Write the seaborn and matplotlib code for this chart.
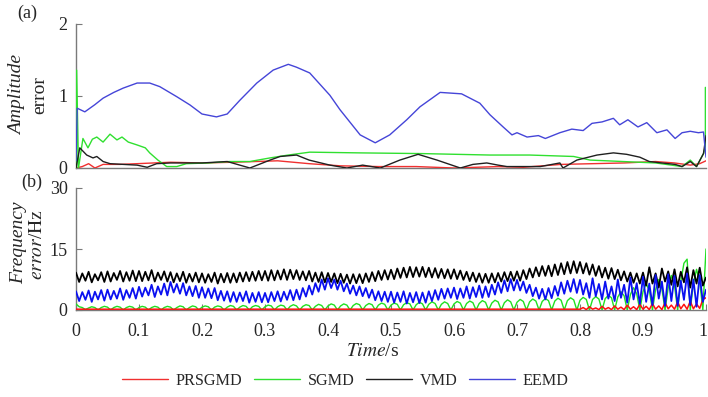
import numpy as np
import pandas as pd
import matplotlib
matplotlib.use("Agg")
import matplotlib.pyplot as plt
import matplotlib.transforms as mtrans
import seaborn as sns

sns.set_style("white")
plt.rcParams['font.family'] = ['Liberation Serif', 'DejaVu Serif']
plt.rcParams['mathtext.fontset'] = 'stix'

# ---------------- (a) amplitude error ----------------
blue_a_t = [0, 0.002, 0.014, 0.03, 0.043, 0.06, 0.075, 0.097, 0.117, 0.133, 0.16, 0.181, 0.2, 0.223, 0.24,
            0.26, 0.287, 0.313, 0.325, 0.337, 0.35, 0.371, 0.403, 0.419, 0.451, 0.475, 0.498, 0.525, 0.546,
            0.578, 0.612, 0.641, 0.657, 0.678, 0.692, 0.7, 0.716, 0.734, 0.745, 0.768, 0.787, 0.805, 0.819,
            0.835, 0.853, 0.863, 0.876, 0.892, 0.906, 0.922, 0.938, 0.951, 0.962, 0.975, 0.988, 0.996, 1.0]
blue_a_v = [0.1, 0.83, 0.78, 0.88, 0.97, 1.05, 1.11, 1.18, 1.18, 1.13, 0.99, 0.875, 0.75, 0.71, 0.75,
            0.94, 1.18, 1.36, 1.40, 1.44, 1.40, 1.32, 1.01, 0.81, 0.46, 0.35, 0.46, 0.67, 0.85,
            1.05, 1.03, 0.9, 0.74, 0.57, 0.46, 0.49, 0.43, 0.45, 0.41, 0.49, 0.54, 0.52, 0.62,
            0.64, 0.69, 0.6, 0.67, 0.57, 0.63, 0.49, 0.53, 0.41, 0.49, 0.51, 0.49, 0.5, 0.15]

green_a_t = [0.001, 0.001, 0.004, 0.011, 0.019, 0.026, 0.033, 0.043, 0.054, 0.065, 0.073, 0.083, 0.097, 0.11, 0.117,
             0.13, 0.144, 0.16, 0.175, 0.21, 0.244, 0.276, 0.308, 0.337, 0.371, 0.45, 0.55, 0.657, 0.72,
             0.79, 0.816, 0.868, 0.92, 0.962, 0.975, 0.985, 0.996, 0.999, 0.999]
green_a_v = [0, 1.36, 0.0, 0.41, 0.28, 0.40, 0.43, 0.36, 0.47, 0.39, 0.43, 0.36, 0.32, 0.28, 0.21,
             0.11, 0.02, 0.02, 0.06, 0.07, 0.09, 0.09, 0.14, 0.18, 0.22, 0.21, 0.2, 0.18, 0.18,
             0.16, 0.11, 0.09, 0.07, 0.02, 0.11, 0.02, 0.2, 0.3, 1.12]

black_a_t = [0, 0.006, 0.017, 0.027, 0.033, 0.043, 0.054, 0.097, 0.113, 0.128, 0.15, 0.2, 0.24, 0.276, 0.308,
             0.324, 0.35, 0.37, 0.403, 0.43, 0.455, 0.483, 0.514, 0.543, 0.573, 0.61, 0.63, 0.652, 0.67,
             0.684, 0.737, 0.768, 0.773, 0.795, 0.827, 0.853, 0.874, 0.895, 0.91, 0.93, 0.951, 0.962, 0.975,
             0.985, 0.996, 1.0]
black_a_v = [0, 0.28, 0.18, 0.14, 0.16, 0.09, 0.06, 0.04, 0.01, 0.06, 0.07, 0.07, 0.09, 0.0, 0.11,
             0.16, 0.18, 0.11, 0.04, 0.0, 0.04, 0.0, 0.11, 0.19, 0.11, 0.0, 0.05, 0.07, 0.04,
             0.02, 0.02, 0.07, 0.0, 0.11, 0.18, 0.21, 0.19, 0.15, 0.09, 0.07, 0.05, 0.02, 0.09,
             0.02, 0.2, 0.45]

red_a_t = [0, 0.01, 0.02, 0.03, 0.043, 0.07, 0.15, 0.2, 0.25, 0.32, 0.37, 0.42, 0.48, 0.54, 0.6, 0.67,
           0.71, 0.77, 0.82, 0.87, 0.92, 0.95, 0.975, 0.99, 1.0]
red_a_v = [0.0, 0.02, 0.06, 0.0, 0.05, 0.05, 0.08, 0.07, 0.08, 0.1, 0.06, 0.03, 0.02, 0.02, 0.0, 0.02,
           0.01, 0.05, 0.06, 0.07, 0.09, 0.07, 0.04, 0.06, 0.1]

# ---------------- (b) frequency error (sampled every 0.005 s) ----------------
t_b = np.linspace(0, 1, 201)

black_b = [9.2, 6.9, 9.0, 7.2, 9.4, 6.8, 8.8, 7.3, 9.3, 6.9,
           9.5, 7.0, 9.1, 7.4, 9.6, 7.0, 9.3, 7.2, 9.7, 7.1,
           9.6, 7.1, 9.4, 7.3, 9.8, 7.0, 9.2, 7.4, 9.5, 7.0,
           9.3, 6.8, 9.0, 7.1, 9.4, 6.7, 8.9, 7.0, 9.2, 6.8,
           9.0, 6.7, 8.8, 6.9, 9.2, 6.5, 8.9, 6.8, 9.1, 6.7,
           9.0, 6.8, 9.2, 7.0, 9.3, 7.1, 9.4, 7.2, 9.6, 7.3,
           9.6, 7.2, 9.8, 7.3, 9.7, 7.5, 10.0, 7.4, 9.9, 7.6,
           9.8, 7.4, 9.5, 7.3, 9.6, 7.0, 9.2, 6.9, 9.3, 6.8,
           9.1, 6.9, 9.0, 6.6, 8.9, 6.7, 8.7, 6.5, 8.8, 6.6,
           8.8, 6.6, 9.0, 6.9, 9.3, 7.1, 9.6, 7.4, 9.8, 7.5,
           9.9, 7.6, 10.2, 7.9, 10.4, 8.0, 10.6, 8.1, 10.5, 8.2,
           10.6, 8.1, 10.4, 8.0, 10.3, 7.9, 10.1, 7.8, 10.0, 7.7,
           10.0, 7.6, 9.7, 7.4, 9.4, 7.1, 9.2, 6.9, 9.0, 6.7,
           8.9, 6.7, 9.0, 6.8, 9.1, 7.0, 9.3, 7.1, 9.4, 7.2,
           9.5, 7.2, 9.8, 7.6, 10.2, 8.0, 10.5, 8.3, 10.8, 8.4,
           10.9, 8.3, 11.2, 8.6, 11.5, 8.8, 11.8, 9.0, 12.0, 9.1,
           11.8, 9.0, 11.5, 8.7, 11.2, 8.4, 10.8, 8.0, 10.4, 7.7,
           10.3, 7.6, 9.9, 7.3, 9.5, 7.0, 9.2, 6.7, 9.0, 6.5,
           9.2, 6.0, 10.5, 6.5, 9.0, 5.5, 10.2, 7.0, 9.5, 6.2,
           10.0, 5.8, 9.4, 6.8, 10.5, 5.5, 9.8, 6.5, 10.4, 6.0,
           8.0]

blue_b = [4.6, 2.2, 4.4, 2.5, 4.8, 2.0, 4.5, 2.6, 4.9, 2.3,
          5.0, 2.6, 4.7, 2.8, 5.3, 2.5, 4.9, 3.0, 5.4, 2.8,
          5.7, 3.3, 5.5, 3.6, 6.2, 3.2, 5.8, 3.8, 6.5, 3.6,
          6.9, 4.3, 6.4, 4.0, 6.6, 3.6, 5.8, 3.4, 5.9, 3.0,
          5.6, 3.0, 5.3, 2.9, 5.4, 2.4, 4.7, 2.3, 4.6, 2.0,
          4.4, 2.0, 4.3, 2.2, 4.6, 1.8, 4.2, 2.0, 4.4, 1.9,
          4.2, 1.9, 4.4, 2.2, 4.6, 2.1, 4.5, 2.5, 4.9, 2.4,
          5.0, 2.6, 5.4, 3.3, 6.0, 3.8, 6.6, 4.5, 7.5, 5.0,
          7.8, 5.4, 7.5, 5.0, 7.2, 4.6, 6.5, 4.0, 6.0, 3.6,
          5.8, 3.4, 5.4, 3.0, 5.0, 2.4, 4.6, 2.2, 4.5, 2.0,
          4.5, 1.8, 4.3, 2.0, 4.6, 1.6, 4.2, 1.9, 4.4, 1.7,
          4.3, 1.8, 4.6, 2.2, 4.9, 2.5, 5.2, 2.8, 5.3, 3.0,
          5.5, 2.7, 5.3, 3.0, 5.8, 2.8, 5.6, 3.2, 6.0, 3.0,
          5.8, 3.2, 6.2, 3.8, 6.8, 4.2, 7.3, 4.6, 7.6, 4.8,
          7.4, 4.8, 7.0, 4.2, 6.2, 3.4, 5.5, 2.8, 5.2, 2.6,
          5.4, 2.9, 5.9, 3.5, 6.8, 4.0, 7.2, 4.5, 7.6, 4.2,
          7.4, 3.8, 6.6, 3.0, 7.8, 3.4, 6.4, 2.6, 7.0, 2.8,
          5.8, 2.2, 7.5, 3.0, 6.2, 1.8, 8.0, 2.6, 6.6, 1.5,
          8.2, 2.0, 6.5, 1.2, 8.6, 2.8, 7.0, 1.0, 8.8, 2.2,
          8.4, 1.0, 7.2, 2.5, 9.0, 1.2, 7.5, 0.8, 8.6, 2.0,
          5.0]

green_b = [1.5, 0.8, 0.6, 0.1, 0.5, 0.8, 0.6, 0.0, 0.6, 0.9,
           0.7, 0.0, 0.6, 0.9, 0.7, 0.0, 0.6, 0.9, 0.7, 0.0,
           0.6, 0.9, 0.7, 0.0, 0.6, 0.9, 0.7, 0.0, 0.6, 0.9,
           0.7, 0.0, 0.6, 1.0, 0.8, 0.0, 0.6, 1.0, 0.8, 0.0,
           0.7, 1.0, 0.8, 0.0, 0.7, 1.0, 0.8, 0.0, 0.7, 1.1,
           0.9, 0.0, 0.7, 1.1, 0.9, 0.0, 0.8, 1.1, 0.9, 0.0,
           0.8, 1.2, 1.0, 0.0, 0.8, 1.2, 1.0, 0.0, 0.9, 1.3,
           1.0, 0.0, 0.9, 1.3, 1.1, 0.0, 0.9, 1.4, 1.1, 0.0,
           1.0, 1.5, 1.2, 0.0, 1.0, 1.5, 1.2, 0.0, 1.1, 1.6,
           1.3, 0.0, 1.1, 1.6, 1.3, 0.0, 1.2, 1.7, 1.4, 0.0,
           1.2, 1.7, 1.4, 0.0, 1.3, 1.8, 1.5, 0.0, 1.3, 1.9,
           1.5, 0.0, 1.4, 2.0, 1.6, 0.0, 1.4, 2.0, 1.6, 0.0,
           1.5, 2.1, 1.7, 0.0, 1.6, 2.2, 1.8, 0.0, 1.6, 2.3,
           1.9, 0.0, 1.7, 2.4, 2.0, 0.0, 1.8, 2.5, 2.0, 0.0,
           1.9, 2.6, 2.1, 0.0, 2.0, 2.7, 2.2, 0.0, 2.1, 2.8,
           2.3, 0.0, 2.2, 2.9, 2.4, 0.0, 2.3, 3.0, 2.5, 0.0,
           2.4, 3.1, 2.6, 0.0, 2.6, 3.3, 2.7, 0.0, 2.8, 3.6,
           3.0, 0.0, 3.2, 4.5, 3.5, 0.0, 3.8, 5.5, 4.0, 0.0,
           4.5, 6.5, 4.8, 0.0, 5.0, 7.5, 5.2, 0.0, 5.5, 8.5,
           6.0, 0.0, 7.0, 11.5, 12.5, 0.0, 6.5, 10.0, 7.0, 0.0,
           15.0]

red_b_t_coarse = [0.0, 0.2, 0.4, 0.6, 0.795]
red_b_coarse = [0.2, 0.2, 0.2, 0.2, 0.2]
red_b_fine = [0.2, 0.6, 0.1, 0.8, 0.2, 0.5, 0.1, 0.9, 0.2, 0.6,
              0.1, 1.0, 0.2, 0.7, 0.1, 1.2, 0.2, 0.8, 0.1, 1.4,
              0.2, 0.9, 0.1, 1.6, 0.2, 1.0, 0.1, 1.8, 0.3, 1.2,
              0.2, 2.0, 0.3, 1.4, 0.2, 2.2, 0.3, 1.5, 0.4, 2.6,
              3.0]

labels = ["PRSGMD", "SGMD", "VMD", "EEMD"]
colors = {"PRSGMD": "#f03030", "SGMD": "#30e030", "VMD": "#202020", "EEMD": "#4545d8"}
colors_b = {"PRSGMD": "#ff1010", "SGMD": "#20e020", "VMD": "#000000", "EEMD": "#0a10f0"}

fig = plt.figure(figsize=(7.08, 3.97), dpi=100)
ax1 = fig.add_axes([76/708, 1-168/397, 630/708, 144/397])
ax2 = fig.add_axes([76/708, 1-310/397, 630/708, 122/397])

top_series = [("PRSGMD", red_a_t, red_a_v), ("SGMD", green_a_t, green_a_v),
              ("VMD", black_a_t, black_a_v), ("EEMD", blue_a_t, blue_a_v)]
for name, tt, vv in top_series:
    sns.lineplot(x=tt, y=vv, ax=ax1, color=colors[name], lw=1.0, sort=False,
                 estimator=None, label=name, legend=False, zorder=3)

red_t_full = list(red_b_t_coarse) + list(t_b[160:])
red_v_full = list(red_b_coarse) + list(red_b_fine)
bottom_series = [("SGMD", t_b, green_b, 1.0), ("PRSGMD", red_t_full, red_v_full, 1.1),
                 ("VMD", t_b, black_b, 1.3), ("EEMD", t_b, blue_b, 1.3)]
for name, tt, vv, lw in bottom_series:
    sns.lineplot(x=tt, y=vv, ax=ax2, color=colors_b[name], lw=lw, sort=False,
                 estimator=None, legend=False, zorder=3)

spine_col = "#7a7a7a"
for ax in (ax1, ax2):
    ax.set_xlim(0, 1)
    for s in ("top", "right"):
        ax.spines[s].set_visible(False)
    for s in ("left", "bottom"):
        ax.spines[s].set_color(spine_col)
        ax.spines[s].set_linewidth(1.0)
    ax.tick_params(direction="in", length=4, width=0.8, color=spine_col,
                   labelsize=13, left=True, bottom=True)
    ax.tick_params(axis="y", pad=6)
    ax.tick_params(axis="x", pad=9)
    ax.set_xlabel("")
    ax.set_ylabel("")

ax1.set_ylim(0, 2)
ax1.set_yticks([0, 1, 2])
ax1.set_yticklabels(["0", "1", "2"])
ax1.set_xticks([])

ax2.set_ylim(0, 30)
ax2.set_yticks([0, 15, 30])
ax2.set_yticklabels(["0", "15", "30"])
xt = [0, 0.1, 0.2, 0.3, 0.4, 0.5, 0.6, 0.7, 0.8, 0.9, 1.0]
ax2.set_xticks(xt)
ax2.set_xticklabels(["0", "0.1", "0.2", "0.3", "0.4", "0.5", "0.6", "0.7", "0.8", "0.9", "1"])
last = ax2.get_xticklabels()[-1]
last.set_transform(last.get_transform() + mtrans.ScaledTranslation(-3/100, 0, fig.dpi_scale_trans))

# panel labels
fig.text(17/708, 1-13/397, "(a)", fontsize=13, va="center", ha="left")
fig.text(21/708, 1-182/397, "(b)", fontsize=13, va="center", ha="left")

# y labels
fig.text(18/708, 1-95/397, "Amplitude", fontsize=14, style="italic", rotation=90,
         va="center", ha="center")
fig.text(40/708, 1-95/397, "error", fontsize=14, rotation=90, va="center", ha="center")
fig.text(19/708, 1-243/397, "Frequency", fontsize=14, style="italic", rotation=90,
         va="center", ha="center")
fig.text(38/708, 1-245/397, r"$\mathit{error}$/$\mathrm{Hz}$", fontsize=14, rotation=90,
         va="center", ha="center")

# x label
fig.text(373/708, 1-352/397, r"$\mathit{Time}$/s", fontsize=14, va="center", ha="center")

handles, lbls = ax1.get_legend_handles_labels()
fig.legend(handles, lbls, loc="center", bbox_to_anchor=(345/708, 1-381/397), ncol=4,
           frameon=False, fontsize=11.6, handlelength=2.9, handletextpad=0.45,
           columnspacing=0.7)

fig.savefig("out.png", dpi=100)
